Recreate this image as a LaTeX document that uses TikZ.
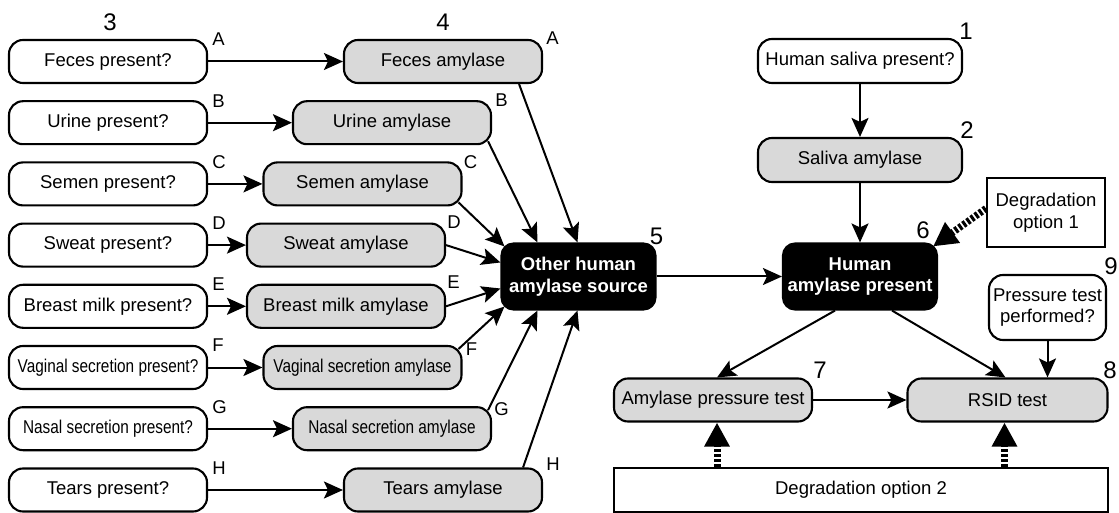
\documentclass[tikz,border=0pt]{standalone}
\usepackage{fontspec}
\setmainfont{Liberation Sans}
\usetikzlibrary{arrows.meta,calc}
\newcommand{\txtsize}{\fontsize{9.25}{10.8}\selectfont}
\newcommand{\numsize}{\fontsize{12}{14}\selectfont}
\newcommand{\cond}[1]{\scalebox{0.83}[1]{#1}}
\begin{document}
\begin{tikzpicture}[x=0.5pt,y=-0.5pt,
  qbox/.style={draw, line width=1.05pt, rounded corners=7pt, minimum width=99pt,
    minimum height=21.5pt, inner sep=0pt, font=\txtsize, fill=white},
  abox/.style={qbox, fill=black!15},
  darkbox/.style={draw, fill=black, text=white, line width=1.05pt, rounded corners=6pt,
    minimum width=77pt, minimum height=33pt, inner sep=0pt, align=center,
    font=\txtsize\bfseries},
  sqbox/.style={draw, line width=1.05pt, inner sep=0pt, align=center, font=\txtsize},
  letter/.style={font=\txtsize, inner sep=0pt, anchor=base west},
  num/.style={font=\numsize, inner sep=0pt},
  arr/.style={line width=1pt, -{Stealth[length=9.5pt,width=8.5pt,inset=2pt]}},
  dotarr/.style={line width=3.5pt, dash pattern=on 1.5pt off 1pt,
    -{Triangle[length=12pt,width=12pt]}}
]
\useasboundingbox (0,0) rectangle (1119,513);

% question column
\node[qbox] (q1) at (108,61.5)  {Feces present?};
\node[qbox] (q2) at (108,122.7) {Urine present?};
\node[qbox] (q3) at (108,183.9) {Semen present?};
\node[qbox] (q4) at (108,245.1) {Sweat present?};
\node[qbox] (q5) at (108,306.3) {Breast milk present?};
\node[qbox] (q6) at (108,367.5) {\cond{Vaginal secretion present?}};
\node[qbox] (q7) at (108,428.7) {\cond{Nasal secretion present?}};
\node[qbox] (q8) at (108,490)   {Tears present?};

% amylase column
\node[abox] (a1) at (443,61.5)  {Feces amylase};
\node[abox] (a2) at (392,122.7) {Urine amylase};
\node[abox] (a3) at (362.5,183.9) {Semen amylase};
\node[abox] (a4) at (346,245.1) {Sweat amylase};
\node[abox] (a5) at (346,306.3) {Breast milk amylase};
\node[abox] (a6) at (362.5,367.5) {\cond{Vaginal secretion amylase}};
\node[abox] (a7) at (392,428.7) {\cond{Nasal secretion amylase}};
\node[abox] (a8) at (443,490)   {Tears amylase};

% letters beside the boxes
\foreach \n/\l in {1/A,2/B,3/C,4/D,5/E,6/F,7/G,8/H}
  \node[letter] (lq\n) at ($(q\n.north east)+(4,7)$) {\l};
\node[letter] (la1) at ($(a1.north east)+(3,6)$) {A};
\node[letter] (la2) at ($(a2.north east)+(3,6)$) {B};
\node[letter] (la3) at ($(a3.north east)+(1,7)$) {C};
\node[letter] (la4) at ($(a4.north east)+(1,6)$) {D};
\node[letter] (la5) at ($(a5.north east)+(1,5)$) {E};
\node[letter] (la6) at ($(a6.north east)+(3,11)$) {F};
\node[letter] (la7) at ($(a7.north east)+(2,9)$) {G};
\node[letter] (la8) at ($(a8.north east)+(3,3)$) {H};

% central and right-hand nodes
\node[darkbox] (oth) at (578.5,276.5) {Other human\\amylase source};
\node[darkbox] (ha) at (860,276.5) {Human\\amylase present};
\node[qbox, minimum width=102pt, minimum height=22pt] (hs) at (860,61) {Human saliva present?};
\node[abox, minimum width=102pt, minimum height=22pt] (sa) at (860,160) {Saliva amylase};
\node[sqbox, minimum width=59pt, minimum height=34.5pt] (d1) at (1046,212.5) {Degradation\\option 1};
\node[qbox, align=center, minimum width=58.5pt, minimum height=32.5pt] (ptp) at (1047.5,307.5) {Pressure test\\performed?};
\node[abox] (apt) at (713,400) {Amylase pressure test};
\node[abox, minimum width=100pt] (rsid) at (1007.5,400) {RSID test};
\node[sqbox, minimum width=247pt, minimum height=22pt] (d2) at (861,490) {Degradation option 2};

% step numbers
\node[num] (n3) at (110,22.5) {3};
\node[num] (n4) at (443,22.5) {4};
\node[num] (n1) at (966,31) {1};
\node[num] (n2) at (967,130) {2};
\node[num] (n5) at (656.5,236) {5};
\node[num] (n6) at (923,230.5) {6};
\node[num] (n7) at (820,370) {7};
\node[num] (n8) at (1110,370) {8};
\node[num] (n9) at (1111,266) {9};

% questions to amylase sources
\foreach \n in {1,...,8}
  \draw[arr] (q\n) -- (a\n);

% amylase sources converging on the black node
\draw[arr] ($(a1.south east)+(-24,0)$) -- ($(oth.north)+(-1,0)$);
\draw[arr] ($(a2.south east)+(-4,-4)$) -- ($(oth.north)+(-41,0)$);
\draw[arr] ($(a3.south east)+(-4,-4)$) -- ($(oth.north west)+(4,4)$);
\draw[arr] (a4.east) -- ($(oth.west)+(0,-14)$);
\draw[arr] (a5.east) -- ($(oth.west)+(0,12)$);
\draw[arr] ($(a6.north east)+(-4,4)$) -- ($(oth.south west)+(4,-4)$);
\draw[arr] ($(a7.north east)+(-4,4)$) -- ($(oth.south)+(-41,0)$);
\draw[arr] ($(a8.north east)+(-20,0)$) -- ($(oth.south)+(-1,0)$);

% main line
\draw[arr] (oth) -- (ha);
\draw[arr] (hs) -- (sa);
\draw[arr] (sa) -- (ha);
\draw[arr] ($(ha.south)+(-25,0)$) -- ($(apt.north)+(4,0)$);
\draw[arr] ($(ha.south)+(32,0)$) -- ($(rsid.north)+(-2,0)$);
\draw[arr] (ptp.south) -- (ptp.south |- rsid.north);
\draw[arr] (apt) -- (rsid);

% degradation options
\draw[dotarr] ($(d1.west)+(0,-4)$) -- ($(ha.north east)+(-5,4)$);
\draw[dotarr] ($(d2.north -| apt.south)+(4,0)$) -- ($(apt.south)+(4,0)$);
\draw[dotarr] ($(d2.north -| rsid.south)+(-3,0)$) -- ($(rsid.south)+(-3,0)$);
\end{tikzpicture}
\end{document}
